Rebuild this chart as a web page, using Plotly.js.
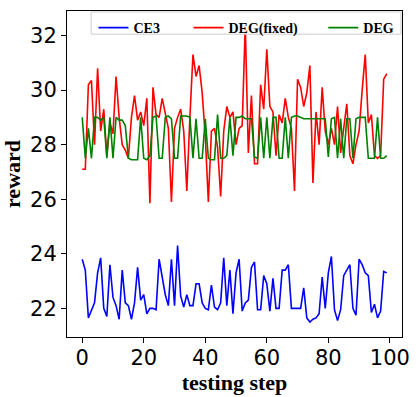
<!DOCTYPE html>
<html>
<head>
<meta charset="utf-8">
<script src="https://cdn.plot.ly/plotly-3.0.1.min.js"></script>
<style>
  html, body { margin: 0; padding: 0; background: #fff; }
  #chart { width: 418px; height: 397px; }
</style>
</head>
<body>
<div id="chart"></div>
<script>
// reward per testing step (index 0..99)
const ce3 = [
  23.8, 23.4, 21.65, 21.9, 22.2, 23.3, 23.85, 22.0, 21.7, 23.6,
  22.4, 22.1, 21.6, 23.4, 22.2, 22.1, 21.6, 22.2, 23.5, 22.3,
  22.5, 21.8, 22.0, 22.0, 21.95, 23.8, 23.2, 22.5, 22.1, 23.8,
  22.1, 24.3, 22.45, 22.05, 22.5, 22.1, 22.1, 22.9, 22.9, 22.2,
  22.0, 21.95, 22.85, 22.05, 21.95, 22.2, 23.85, 22.1, 23.4, 21.8,
  23.3, 23.8, 21.9, 22.2, 22.3, 23.5, 23.7, 21.95, 21.95, 23.2,
  22.9, 21.9, 23.1, 22.0, 22.0, 23.4, 23.4, 23.6, 22.0, 22.0,
  22.0, 22.0, 22.75, 21.65, 21.5, 21.6, 21.65, 21.8, 23.15, 22.0,
  23.3, 23.9, 21.95, 21.55, 21.95, 23.2, 23.4, 23.6, 22.0, 21.75,
  23.8, 23.6, 23.3, 23.2, 21.85, 22.15, 21.65, 21.9, 23.35, 23.3
];
const degFixed = [
  27.1, 27.1, 30.2, 30.35, 28.0, 30.8, 28.5, 29.3, 27.6, 28.8,
  28.4, 30.5, 29.0, 28.0, 27.8, 27.5, 29.0, 29.8, 28.9, 29.2,
  28.7, 29.7, 25.85, 30.1, 29.1, 29.0, 29.7, 29.2, 28.6, 25.9,
  28.6, 29.0, 29.3, 28.5, 26.3, 29.0, 31.3, 30.5, 30.9, 29.9,
  28.3, 25.9, 28.5, 28.6, 27.9, 26.1, 28.5, 29.4, 29.0, 29.2,
  28.0, 28.6, 28.7, 32.4, 27.7, 29.8, 27.3, 27.3, 30.2, 29.3,
  31.5, 29.4, 29.2, 27.6, 29.1, 28.8, 29.7, 29.0, 28.6, 26.3,
  30.4, 30.1, 29.4, 29.9, 30.9, 26.6, 29.2, 28.0, 30.1, 28.5,
  28.0, 28.6, 28.0, 29.4, 27.7, 28.6, 29.5, 27.6, 27.3, 28.0,
  28.5, 30.0, 31.3, 28.8, 29.1, 27.6, 27.5, 27.6, 30.4, 30.6
];
const deg = [
  29.0, 27.5, 28.6, 27.5, 29.0, 29.0, 28.9, 29.0, 27.5, 29.0,
  27.5, 29.0, 28.9, 28.9, 28.7, 27.5, 27.45, 27.45, 27.45, 29.0,
  27.5, 27.45, 27.6, 29.0, 29.05, 27.5, 27.5, 29.0, 29.05, 28.95,
  27.5, 27.5, 29.05, 29.05, 29.05, 29.0, 27.5, 28.95, 27.5, 27.5,
  28.95, 27.5, 27.45, 27.45, 29.1, 27.5, 27.5, 27.6, 29.0, 27.6,
  29.0, 29.0, 29.05, 28.95, 28.95, 28.95, 27.55, 27.5, 29.0, 27.5,
  29.0, 27.5, 29.0, 29.0, 27.5, 27.5, 29.0, 27.5, 29.0, 29.05,
  29.05, 29.0, 28.95, 28.95, 28.95, 28.95, 28.95, 28.95, 28.95, 28.95,
  27.55, 28.95, 29.0, 27.5, 28.95, 27.5, 28.95, 28.95, 27.5, 28.95,
  29.0, 29.0, 29.0, 27.5, 27.5, 27.5, 29.0, 27.5, 27.5, 27.6
];

const seriesNames = ['CE3', 'DEG(fixed)', 'DEG'];
const seriesColors = ['#0000ff', '#ff0000', '#008000'];
const xTicks = [0, 20, 40, 60, 80, 100];
const yTicks = [22, 24, 26, 28, 30, 32];

const serif = 'Liberation Serif, Times New Roman, serif';
const sans = 'DejaVu Sans, sans-serif';

// one legend per series so the three entries sit where matplotlib put them
const legendIds = ['legend', 'legend2', 'legend3'];
const legendX = [0.079, 0.3625, 0.765];

const traces = [ce3, degFixed, deg].map((vals, i) => ({
  type: 'scatter',
  mode: 'lines',
  y: vals,
  name: seriesNames[i],
  legend: legendIds[i],
  line: { color: seriesColors[i], width: 1.6 }
}));

const axisBase = {
  showgrid: false,
  zeroline: false,
  showline: true,
  linecolor: '#000',
  linewidth: 1,
  mirror: true,
  ticks: 'outside',
  ticklen: 5,
  tickwidth: 1,
  tickcolor: '#000',
  tickfont: { family: sans, size: 21, color: '#000' }
};

const titleFont = { family: serif, size: 22, color: '#000', weight: 'bold' };

const layout = {
  width: 418,
  height: 397,
  margin: { l: 67, r: 16, t: 11, b: 60 },
  paper_bgcolor: 'white',
  plot_bgcolor: 'white',
  showlegend: true,
  xaxis: Object.assign({}, axisBase, {
    range: [-4.95, 103.95],
    tickvals: xTicks,
    ticklabelstandoff: -3,
    title: { text: 'testing step', font: titleFont, standoff: 0 }
  }),
  yaxis: Object.assign({}, axisBase, {
    range: [20.95, 32.9],
    tickvals: yTicks,
    title: { text: 'reward', font: titleFont, standoff: 4 }
  }),
  // legend frame
  shapes: [{
    type: 'rect', xref: 'paper', yref: 'paper', layer: 'above',
    x0: 0.072, x1: 0.997, y0: 0.929, y1: 0.997,
    fillcolor: 'rgba(255,255,255,0.8)',
    line: { color: '#cccccc', width: 1 }
  }]
};

legendIds.forEach((id, i) => {
  layout[id] = {
    orientation: 'h',
    x: legendX[i], xanchor: 'left',
    y: 0.997, yanchor: 'top',
    bgcolor: 'rgba(0,0,0,0)',
    borderwidth: 0,
    font: { family: serif, size: 14, color: '#000', weight: 'bold' }
  };
});

Plotly.newPlot('chart', traces, layout, { displayModeBar: false, staticPlot: true });
</script>
</body>
</html>
